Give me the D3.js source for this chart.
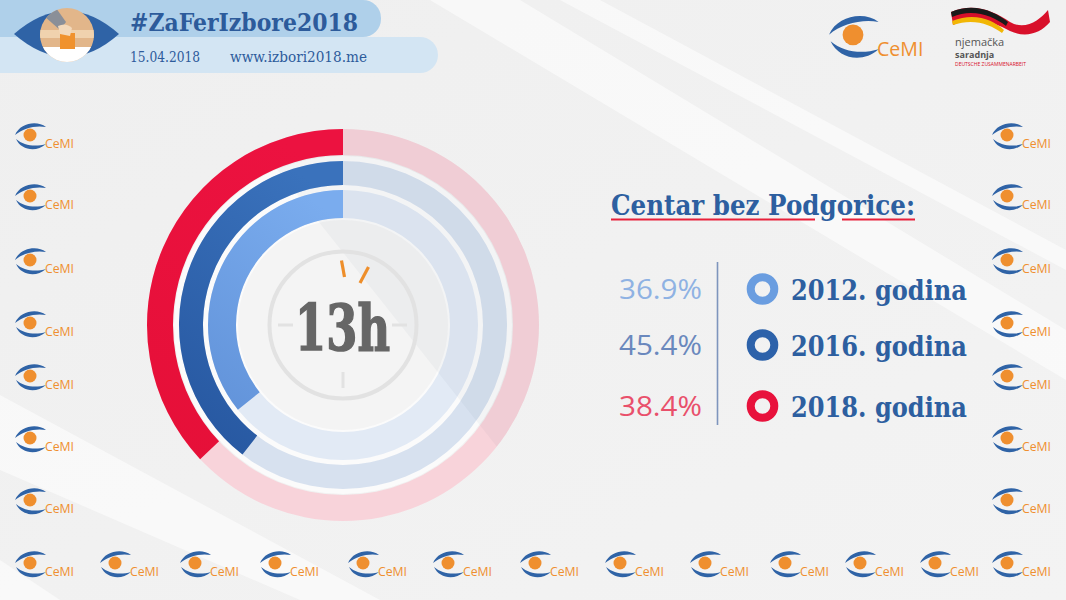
<!DOCTYPE html>
<html><head><meta charset="utf-8">
<script src="https://cdn.jsdelivr.net/npm/d3@7/dist/d3.min.js"></script>
<style>html,body{margin:0;padding:0;background:#f1f1f1;}svg{display:block;}</style>
</head><body>
<svg id="chart" width="1066" height="600"></svg>
<script>
// ---- data ----
const years = ["2012. godina", "2016. godina", "2018. godina"];
const turnout = [36.9, 45.4, 38.4];          // labelled values (%)
const arcDrawn = [35.8, 39.5, 37.0];          // arc fill as drawn in the source graphic (%)
const seriesColors = ["#6a9de0", "#2d62aa", "#e8123c"];
const labelColors = ["#8fb2e3", "#6a88bd", "#e9506b"];
const trackColors = ["#e2eaf5", "#d7e1ef", "#f8d3da"];
const centerLabel = "13h";
const title = "Centar bez Podgorice:";
const headerTitle = "#ZaFerIzbore2018";
const headerDate = "15.04.2018";
const headerUrl = "www.izbori2018.me";
const leftLogoY = [137, 198, 262, 325, 378, 440, 502];
const bottomLogoX = [15, 100, 180, 260, 348, 433, 520, 605, 690, 770, 845, 920, 992];

const svg = d3.select("#chart");
const W = 1066, H = 600;
const defs = svg.append("defs");

// background
const bg = defs.append("linearGradient").attr("id","bg").attr("x1",0).attr("y1",0).attr("x2",1).attr("y2",1);
bg.append("stop").attr("offset",0).attr("stop-color","#efefef");
bg.append("stop").attr("offset",1).attr("stop-color","#f3f3f3");
svg.append("rect").attr("width",W).attr("height",H).attr("fill","url(#bg)");
// diagonal light streaks
const streaks = [
  [[430,0],[520,0],[1066,330],[1066,380]],
  [[0,395],[0,470],[300,600],[380,600]],
  [[560,0],[600,0],[1066,250],[1066,270]],
  [[0,560],[0,600],[60,600]]
];
svg.selectAll("path.streak").data(streaks).join("path").attr("class","streak")
  .attr("d", d => d3.line()(d) + "Z").attr("fill","#ffffff").attr("opacity",0.55);

// ---- header ----
const hdr = svg.append("g");
hdr.append("rect").attr("x",-30).attr("y",37).attr("width",468).attr("height",36).attr("rx",18).attr("fill","#d3e5f3");
hdr.append("rect").attr("x",-30).attr("y",0).attr("width",411).attr("height",37).attr("rx",18).attr("fill","#afd0ea");
hdr.append("rect").attr("x",-30).attr("y",-20).attr("width",380).attr("height",30).attr("fill","#afd0ea");
hdr.append("text").attr("x",130).attr("y",31).text(headerTitle)
  .attr("font-family","'DejaVu Serif', serif").attr("font-weight","bold").attr("font-size",25)
  .attr("fill","#2d5b9b").attr("textLength",228).attr("lengthAdjust","spacingAndGlyphs");
hdr.append("text").attr("x",130).attr("y",62).text(headerDate)
  .attr("font-family","'DejaVu Serif', serif").attr("font-size",14).attr("fill","#2d5b9b")
  .attr("textLength",70).attr("lengthAdjust","spacingAndGlyphs");
hdr.append("text").attr("x",230).attr("y",62).text(headerUrl)
  .attr("font-family","'DejaVu Serif', serif").attr("font-size",14).attr("fill","#2d5b9b")
  .attr("textLength",137).attr("lengthAdjust","spacingAndGlyphs");
// eye logo
const eye = hdr.append("g");
eye.append("path").attr("d","M14,34 Q67,-12 119,34 Q67,80 14,34Z").attr("fill","#2f63a6");
eye.append("circle").attr("cx",67).attr("cy",35).attr("r",27).attr("fill","#e2b68a");
defs.append("clipPath").attr("id","eyeclip").append("circle").attr("cx",67).attr("cy",35).attr("r",27);
const ec = eye.append("g").attr("clip-path","url(#eyeclip)");
ec.append("rect").attr("x",38).attr("y",30).attr("width",60).attr("height",8).attr("fill","#f0d2ae");
ec.append("rect").attr("x",38).attr("y",47).attr("width",60).attr("height",20).attr("fill","#ffffff");
ec.append("rect").attr("x",60).attr("y",33).attr("width",15).attr("height",16).attr("fill","#f0922e");
ec.append("path").attr("d","M44,16 L56,8 L66,22 L60,30 Z").attr("fill","#8a8f98");
ec.append("path").attr("d","M58,26 Q66,22 72,28 L70,36 L60,34 Z").attr("fill","#f3d9bb");

// ---- CeMI logo ----
function cemi(g, x, y, s) {
  const L = g.append("g").attr("transform", `translate(${x},${y}) scale(${s})`);
  L.append("path").attr("d","M0,13 C5,1 22,-2 31,5 C21,3 8,6 0,13Z").attr("fill","#2f63a6");
  L.append("path").attr("d","M1,17 C6,28 21,31 31,22 C21,25 9,24 1,17Z").attr("fill","#2f63a6");
  L.append("circle").attr("cx",15).attr("cy",13).attr("r",6.5).attr("fill","#ef8f2f");
  L.append("text").attr("x",30).attr("y",26).text("CeMI")
    .attr("font-family","'Open Sans', sans-serif").attr("font-size",12).attr("fill","#ef8f2f")
    .attr("textLength",29).attr("lengthAdjust","spacingAndGlyphs");
}
const logos = svg.append("g");
leftLogoY.forEach(y => { cemi(logos, 15, y - 15, 1); cemi(logos, 992, y - 15, 1); });
bottomLogoX.forEach(x => cemi(logos, x, 550, 1));
cemi(logos, 829, 14, 1.6);

// njemačka saradnja logo
const nj = svg.append("g");
nj.append("path").attr("d","M951,12 C975,2 995,12 1010,22 C1025,31 1040,20 1048,10 L1050,22 C1040,34 1025,38 1010,31 C995,23 975,15 953,25Z").attr("fill","#d8102a");
nj.append("path").attr("d","M951,12 C975,2 995,12 1008,22 L1006,26 C993,16 973,8 952,17Z").attr("fill","#1a1a1a");
nj.append("path").attr("d","M952,21 C975,12 993,20 1004,30 L1002,33 C990,24 973,18 953,25Z").attr("fill","#f2b705");
nj.append("text").attr("x",955).attr("y",46).text("njemačka").attr("font-family","'Open Sans', sans-serif")
  .attr("font-size",11).attr("fill","#555");
nj.append("text").attr("x",955).attr("y",58).text("saradnja").attr("font-family","'Open Sans', sans-serif")
  .attr("font-size",9).attr("font-weight","bold").attr("fill","#555");
nj.append("text").attr("x",955).attr("y",66).text("DEUTSCHE ZUSAMMENARBEIT").attr("font-family","'Open Sans', sans-serif")
  .attr("font-size",5).attr("fill","#d8102a").attr("textLength",71).attr("lengthAdjust","spacingAndGlyphs");

// ---- rings ----
const cx = 343, cy = 325;
const angle = d3.scaleLinear().domain([0, 100]).range([0, -2 * Math.PI]);
const rings = [
  {inner:107, outer:135},
  {inner:140, outer:164},
  {inner:170, outer:196}
];
const chart = svg.append("g").attr("transform", `translate(${cx},${cy})`);
// gradients for filled arcs
const gradDefs = [["#7aacee","#5b8cd4"],["#3a72bc","#22519a"],["#ec1240","#e40f36"]];
gradDefs.forEach((c,i) => {
  const gr = defs.append("linearGradient").attr("id","g"+i).attr("gradientUnits","userSpaceOnUse")
    .attr("x1",cx+40).attr("y1",cy-rings[i].outer).attr("x2",cx-rings[i].outer).attr("y2",cy+rings[i].outer*0.7);
  gr.append("stop").attr("offset",0).attr("stop-color",c[0]);
  gr.append("stop").attr("offset",1).attr("stop-color",c[1]);
});
// white base so the gaps between rings read white
chart.append("circle").attr("r",169).attr("fill","#fbfbfb");
// inner disc
chart.append("circle").attr("r",105).attr("fill","#f4f4f4");
const arc = d3.arc();
// tracks
chart.selectAll("path.track").data(rings).join("path").attr("class","track")
  .attr("d", (d,i) => arc({innerRadius:d.inner, outerRadius:d.outer, startAngle:0, endAngle:2*Math.PI}))
  .attr("fill", (d,i) => trackColors[i]);
// subtle diagonal shade
defs.append("clipPath").attr("id","ringclip").append("circle").attr("r",196);
chart.append("path").attr("clip-path","url(#ringclip)")
  .attr("d", d3.line()([[-105,-205],[220,205],[220,205],[220,-205]]) + "Z")
  .attr("fill","#2a3a60").attr("opacity",0.035);
// value arcs
chart.selectAll("path.val").data(rings).join("path").attr("class","val")
  .attr("d", (d,i) => arc({innerRadius:d.inner, outerRadius:d.outer, startAngle:0, endAngle:angle(arcDrawn[i])}))
  .attr("fill", (d,i) => `url(#g${i})`);

// clock
chart.append("circle").attr("r",73.5).attr("fill","none").attr("stroke","#e2e2e2").attr("stroke-width",4);
const ticks = [[[-65,0],[-50,0]],[[49,0],[64,0]],[[0,47],[0,63]]];
chart.selectAll("line.tk").data(ticks).join("line").attr("class","tk")
  .attr("x1",d=>d[0][0]).attr("y1",d=>d[0][1]).attr("x2",d=>d[1][0]).attr("y2",d=>d[1][1])
  .attr("stroke","#e2e2e2").attr("stroke-width",3);
const oticks = [[[-1.5,-64.5],[1.5,-48]],[[25.5,-58],[17,-42]]];
chart.selectAll("line.ot").data(oticks).join("line").attr("class","ot")
  .attr("x1",d=>d[0][0]).attr("y1",d=>d[0][1]).attr("x2",d=>d[1][0]).attr("y2",d=>d[1][1])
  .attr("stroke","#ee8e2a").attr("stroke-width",3.2);
chart.append("text").attr("x",-48).attr("y",25).text(centerLabel)
  .attr("font-family","'DejaVu Serif', serif").attr("font-weight","bold").attr("font-size",64)
  .attr("fill","#666666").attr("stroke","#666666").attr("stroke-width",1.6)
  .attr("textLength",95).attr("lengthAdjust","spacingAndGlyphs");

// ---- title & legend ----
const leg = svg.append("g");
leg.append("text").attr("x",611).attr("y",215).text(title)
  .attr("font-family","'DejaVu Serif', serif").attr("font-weight","bold").attr("font-size",27)
  .attr("fill","#2d5fa0").attr("textLength",304).attr("lengthAdjust","spacingAndGlyphs");
// underline with a gap at the descender of g
const ulSegs = [[611,815],[842,915]];
leg.selectAll("line.ul").data(ulSegs).join("line").attr("class","ul")
  .attr("x1",d=>d[0]).attr("x2",d=>d[1]).attr("y1",219.5).attr("y2",219.5)
  .attr("stroke","#e8203a").attr("stroke-width",2);
leg.append("line").attr("x1",717.5).attr("x2",717.5).attr("y1",262).attr("y2",425)
  .attr("stroke","#7e95bd").attr("stroke-width",1.6);
const rowYs = [289, 345, 406];
leg.selectAll("text.pct").data(turnout).join("text").attr("class","pct")
  .attr("x",702).attr("y",(d,i)=>rowYs[i]+10).attr("text-anchor","end")
  .text(d => d.toFixed(1) + "%")
  .attr("font-family","'Open Sans', sans-serif").attr("font-size",27)
  .attr("fill",(d,i)=>labelColors[i]).attr("textLength",83).attr("lengthAdjust","spacingAndGlyphs");
leg.selectAll("circle.mk").data(years).join("circle").attr("class","mk")
  .attr("cx",762.5).attr("cy",(d,i)=>rowYs[i]).attr("r",11.8)
  .attr("fill","none").attr("stroke",(d,i)=>seriesColors[i]).attr("stroke-width",8);
leg.selectAll("text.yr").data(years).join("text").attr("class","yr")
  .attr("x",791).attr("y",(d,i)=>rowYs[i]+11).text(d=>d)
  .attr("font-family","'DejaVu Serif', serif").attr("font-weight","bold").attr("font-size",27)
  .attr("fill","#2d5fa0").attr("textLength",176).attr("lengthAdjust","spacingAndGlyphs");
</script>
</body></html>
